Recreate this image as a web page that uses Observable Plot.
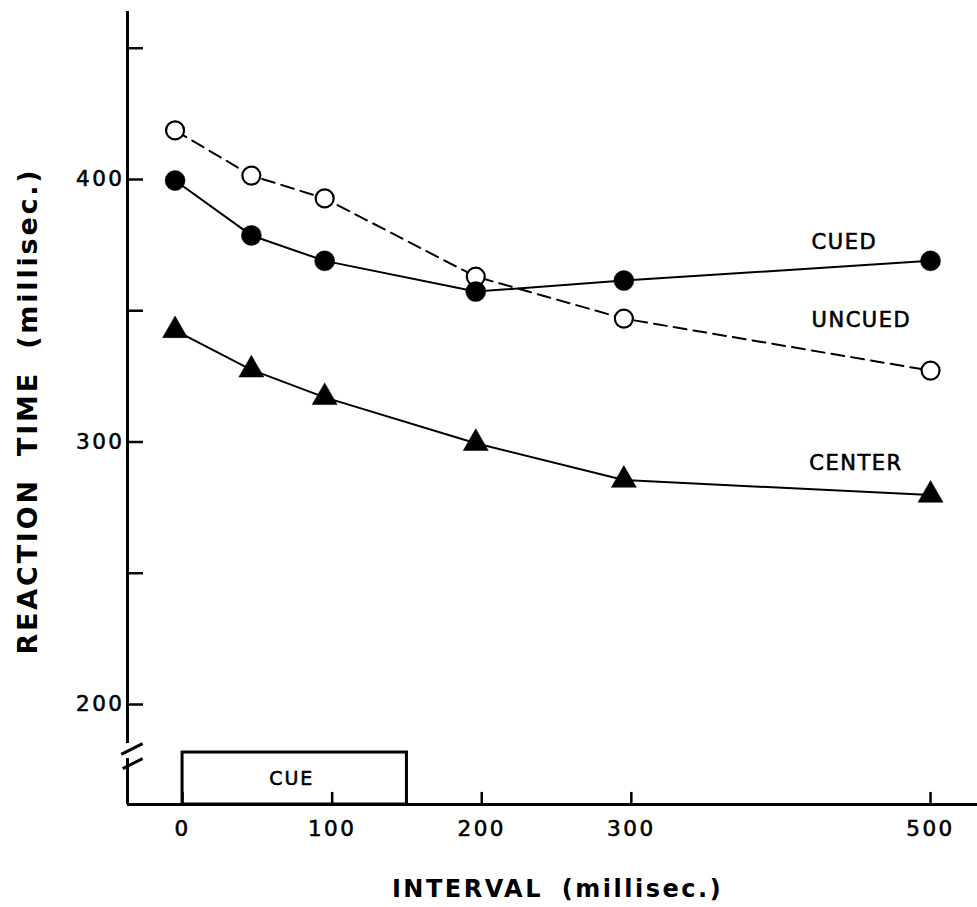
<!DOCTYPE html>
<html>
<head>
<meta charset="utf-8">
<script src="https://cdn.jsdelivr.net/npm/d3@7"></script>
<script src="https://cdn.jsdelivr.net/npm/@observablehq/plot@0.6"></script>
<style>
  html, body { margin: 0; padding: 0; background: #fff; }
  #chart svg { display: block; }
</style>
</head>
<body>
<div id="chart"></div>
<script>
// ---- data ----
const intervals = [-5, 46, 95, 196, 295, 500];           // ms (plotted positions)
const cued      = [399.6, 378.7, 369.0, 357.3, 361.5, 369.0];
const uncued    = [418.7, 401.5, 392.8, 363.0, 347.0, 327.2];
const center    = [342.5, 327.5, 317.0, 299.5, 285.5, 279.8];
const seriesNames = ["CUED", "UNCUED", "CENTER"];
const labelX = [420.5, 420.5, 419];
const labelY = [376, 346.3, 291.8];
const xTicks = [0, 100, 200, 300, 500];
const yTicks = [200, 250, 300, 350, 400, 450];
const yTickLabels = [200, 300, 400];
const cueStart = 0, cueEnd = 150, cueTop = 181.7;
const yTitle = "REACTION TIME (millisec.)";
const xTitle = "INTERVAL (millisec.)";

// axis geometry (data units)
const xMin = -36.8, xMax = 531.4, yMin = 161.9, yMax = 464;
const breakLow = 179.4, breakHigh = 185.1;

const rows = (vals, name) => vals.map((v, i) => ({x: intervals[i], y: v, series: name}));
const cuedRows = rows(cued, "CUED");
const uncuedRows = rows(uncued, "UNCUED");
const centerRows = rows(center, "CENTER");
const labels = seriesNames.map((s, i) => ({s, x: labelX[i], y: labelY[i]}));

const chart = Plot.plot({
  width: 977,
  height: 907,
  marginLeft: 127,
  marginRight: 0,
  marginTop: 11,
  marginBottom: 103,
  x: {domain: [xMin, xMax]},
  y: {domain: [yMin, yMax]},
  style: {fontFamily: "DejaVu Sans", background: "white", color: "black", overflow: "visible"},
  marks: [
    // axes text
    Plot.axisY({ticks: yTickLabels, tickSize: 0, tickPadding: 3, label: null, fontSize: 21.5}),
    Plot.axisX({ticks: xTicks, tickSize: 0, tickPadding: 16, label: null, fontSize: 21.5}),
    // axis lines
    Plot.ruleY([yMin], {x1: xMin, x2: xMax, stroke: "black", strokeWidth: 3}),
    Plot.ruleX([xMin], {y1: breakHigh, y2: yMax, stroke: "black", strokeWidth: 3}),
    Plot.ruleX([xMin], {y1: yMin, y2: breakLow, stroke: "black", strokeWidth: 3}),
    Plot.link([{x1: -41, y1: 181, x2: -26.7, y2: 185.1}, {x1: -40, y1: 175.6, x2: -26.7, y2: 179.4}],
      {x1: "x1", y1: "y1", x2: "x2", y2: "y2", stroke: "black", strokeWidth: 3, clip: false}),
    // ticks
    Plot.ruleY(yTicks, {x1: xMin, x2: -26.1, stroke: "black", strokeWidth: 2.5}),
    Plot.ruleX(xTicks, {y1: yMin, y2: 166.5, stroke: "black", strokeWidth: 2.5}),
    // cue box
    Plot.rect([{x1: cueStart, x2: cueEnd, y1: yMin, y2: cueTop}],
      {x1: "x1", x2: "x2", y1: "y1", y2: "y2", fill: "none", stroke: "black", strokeWidth: 3}),
    Plot.text([{x: (cueStart + cueEnd) / 2, y: (yMin + cueTop) / 2}],
      {x: "x", y: "y", text: () => "CUE", fontSize: 19, dx: -3}),
    // series lines
    Plot.line(uncuedRows, {x: "x", y: "y", stroke: "black", strokeWidth: 2, strokeDasharray: "13,7"}),
    Plot.line(cuedRows, {x: "x", y: "y", stroke: "black", strokeWidth: 2}),
    Plot.line(centerRows, {x: "x", y: "y", stroke: "black", strokeWidth: 2}),
    // markers
    Plot.dot(uncuedRows, {x: "x", y: "y", r: 9, fill: "white", stroke: "black", strokeWidth: 2.2}),
    Plot.dot(cuedRows, {x: "x", y: "y", r: 10, fill: "black", stroke: "black", strokeWidth: 0.5}),
    Plot.dot(centerRows, {x: "x", y: "y", r: 9.3, symbol: "triangle", fill: "black", stroke: "black", strokeWidth: 0.5}),
    // series labels
    Plot.text(labels, {x: "x", y: "y", text: "s", fontSize: 21, textAnchor: "start"}),
    // titles
    Plot.text([yTitle], {frameAnchor: "left", text: d => d, rotate: -90, textAnchor: "middle", lineAnchor: "middle", dx: -99, dy: 3, fontSize: 27, fontWeight: "bold"}),
    Plot.text([xTitle], {frameAnchor: "bottom", text: d => d, textAnchor: "middle", lineAnchor: "middle", dx: 5, dy: 85, fontSize: 24, fontWeight: "bold"})
  ]
});

// typographic touches (spacing, slightly heavier strokes) applied to the rendered text
d3.select(chart).selectAll("text").each(function() {
  const t = this.textContent;
  const s = this.style;
  const thicken = () => { s.stroke = "black"; s.strokeWidth = "0.6px"; };
  if (/^\d+$/.test(t)) { s.fontSize = "21.5px"; s.letterSpacing = "2.5px"; thicken(); }
  else if (t === "CUE") { s.letterSpacing = "2px"; thicken(); }
  else if (seriesNames.includes(t)) { s.letterSpacing = "1.5px"; thicken(); }
  else if (t === yTitle) { s.letterSpacing = "2.8px"; s.wordSpacing = "10px"; }
  else if (t === xTitle) { s.letterSpacing = "2.5px"; s.wordSpacing = "8px"; }
});
document.getElementById("chart").append(chart);
</script>
</body>
</html>
